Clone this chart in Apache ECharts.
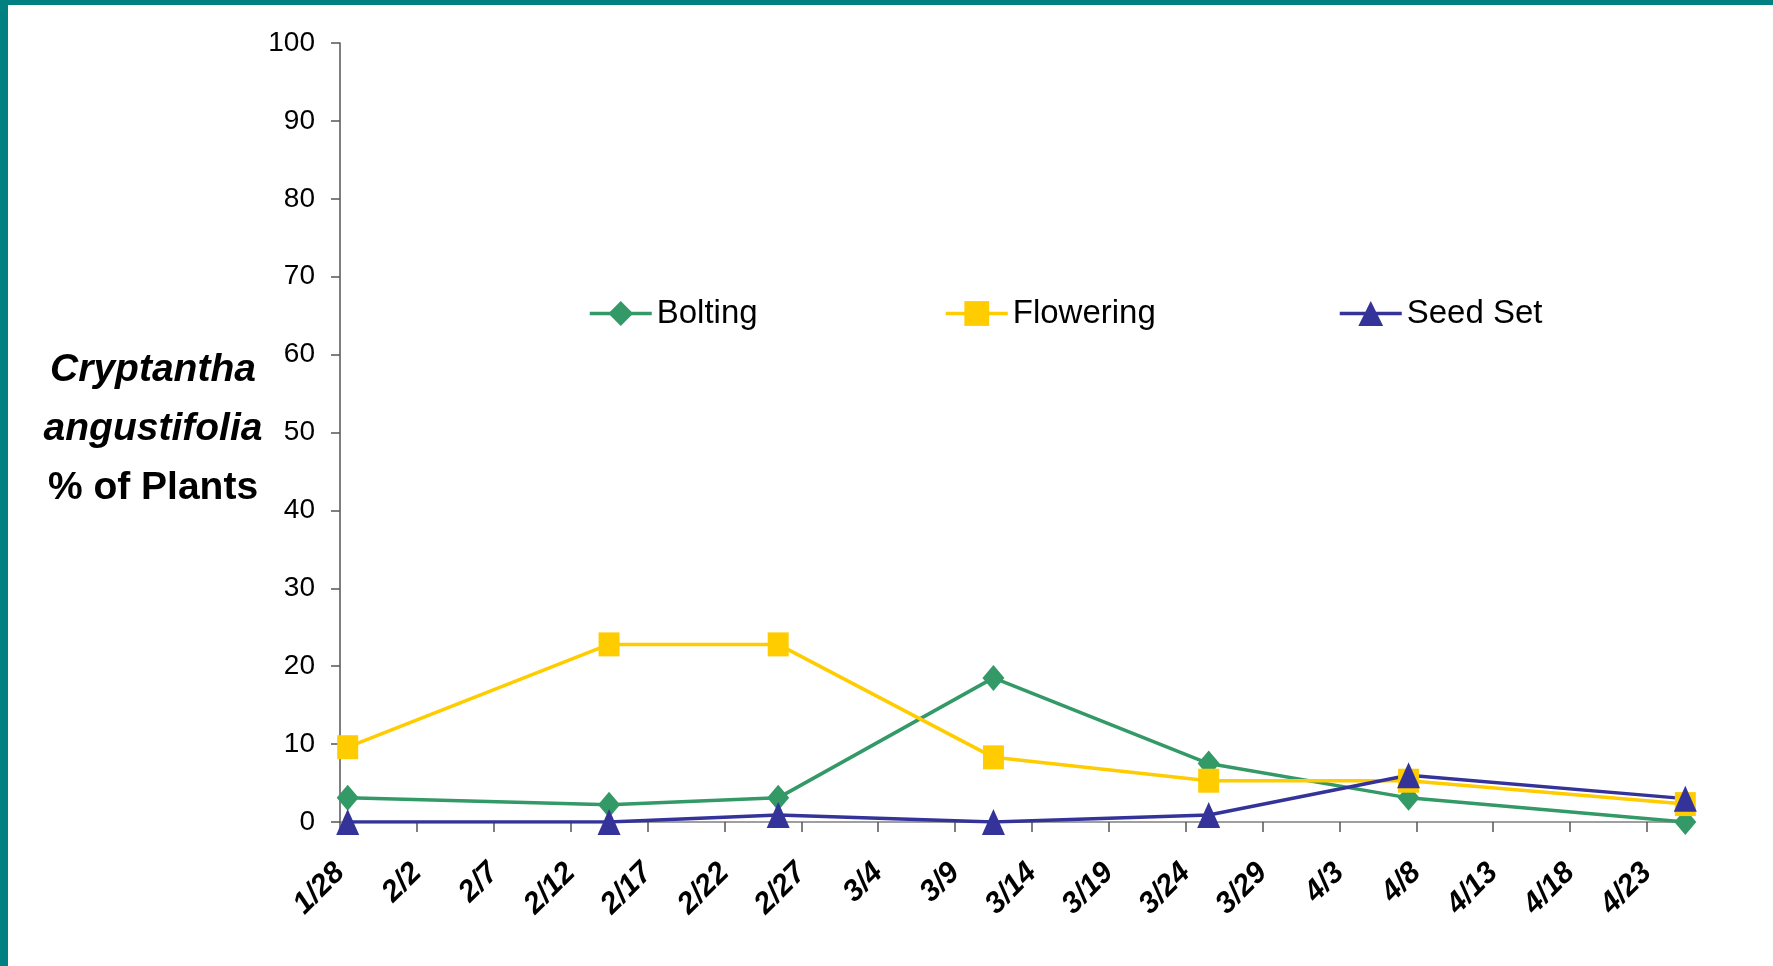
<!DOCTYPE html>
<html>
<head>
<meta charset="utf-8">
<script src="https://cdn.jsdelivr.net/npm/echarts@6/dist/echarts.min.js"></script>
<style>
  html, body { margin: 0; padding: 0; background: #ffffff; }
  #chart { width: 1773px; height: 966px; }
</style>
</head>
<body>
<div id="chart"></div>
<script>
// Survey dates (same season, non-leap year) and % of plants in each stage
const surveyDates = ['1/28', '2/14', '2/25', '3/11', '3/25', '4/7', '4/25'];
const bolting     = [3.1, 2.2, 3.1, 18.5, 7.5, 3.1, 0];
const flowering   = [9.6, 22.8, 22.8, 8.3, 5.3, 5.3, 2.3];
const seedSet     = [0, 0, 0.9, 0, 0.9, 6.0, 3.0];

// Date-axis tick labels, every 5 days
const dateTicks = ['1/28', '2/2', '2/7', '2/12', '2/17', '2/22', '2/27', '3/4', '3/9',
                   '3/14', '3/19', '3/24', '3/29', '4/3', '4/8', '4/13', '4/18', '4/23'];

const SEASON_YEAR = 2007;
const START = Date.UTC(SEASON_YEAR, 0, 28);
function dayOffset(md) {
  const [m, d] = md.split('/').map(Number);
  return Math.round((Date.UTC(SEASON_YEAR, m - 1, d) - START) / 86400000);
}

// each date occupies a one-day slot; points sit in the middle of their slot
const xs = surveyDates.map(d => dayOffset(d) + 0.5);
const tickDays = dateTicks.map(dayOffset);
const xMax = dayOffset(surveyDates[surveyDates.length - 1]) + 1;

const FONT = "'Liberation Sans', Arial, Helvetica, sans-serif";
const TEAL = '#008080';

function pairs(vals) { return vals.map((v, i) => [xs[i], v]); }

const legendCommon = {
  top: 297,
  padding: 0,
  itemWidth: 62,
  itemHeight: 31,
  itemGap: 0,
  lineStyle: { width: 3.5 },
  textStyle: { fontFamily: FONT, fontSize: 33, color: '#000000' }
};

const chart = echarts.init(document.getElementById('chart'), null, { renderer: 'canvas' });
chart.setOption({
  animation: false,
  backgroundColor: '#ffffff',
  grid: { left: 340, right: 80, top: 43, bottom: 144 },
  legend: [
    Object.assign({ data: ['Bolting'], left: 588 }, legendCommon),
    Object.assign({ data: ['Flowering'], left: 944 }, legendCommon),
    Object.assign({ data: ['Seed Set'], left: 1338 }, legendCommon)
  ],
  graphic: [
    { type: 'rect', left: 0, top: 0, shape: { width: 8, height: 966 }, style: { fill: TEAL }, silent: true },
    { type: 'rect', left: 0, top: 0, shape: { width: 1773, height: 5 }, style: { fill: TEAL }, silent: true },
    {
      type: 'text',
      x: 153, y: 429,
      silent: true,
      style: {
        text: '{i|Cryptantha}\n{i|angustifolia}\n{b|% of Plants}',
        align: 'center',
        verticalAlign: 'middle',
        fill: '#000000',
        rich: {
          i: { fontFamily: FONT, fontSize: 39, fontWeight: 'bold', fontStyle: 'italic', lineHeight: 59, align: 'center' },
          b: { fontFamily: FONT, fontSize: 39, fontWeight: 'bold', lineHeight: 59, align: 'center' }
        }
      }
    }
  ],
  xAxis: {
    type: 'value',
    min: 0,
    max: xMax,
    splitLine: { show: false },
    axisLine: { show: true, lineStyle: { color: '#808080', width: 1.5 } },
    axisTick: { show: true, customValues: tickDays, length: 10, lineStyle: { color: '#555555', width: 1.5 } },
    axisLabel: {
      customValues: tickDays,
      rotate: 45,
      margin: 46,
      fontFamily: FONT,
      fontSize: 30,
      fontWeight: 'bold',
      fontStyle: 'italic',
      color: '#000000',
      formatter: v => dateTicks[tickDays.indexOf(v)]
    }
  },
  yAxis: {
    type: 'value',
    min: 0,
    max: 100,
    interval: 10,
    splitLine: { show: false },
    axisLine: { show: true, lineStyle: { color: '#555555', width: 1.5 } },
    axisTick: { show: true, length: 9, lineStyle: { color: '#555555', width: 1.5 } },
    axisLabel: { margin: 25, fontFamily: FONT, fontSize: 28, color: '#000000' }
  },
  series: [
    {
      name: 'Bolting', type: 'line', data: pairs(bolting),
      symbol: 'diamond', symbolSize: [22, 26],
      lineStyle: { color: '#339966', width: 3.5 },
      itemStyle: { color: '#339966' }
    },
    {
      name: 'Flowering', type: 'line', data: pairs(flowering),
      symbol: 'rect', symbolSize: [21, 24],
      lineStyle: { color: '#FFCC00', width: 3.5 },
      itemStyle: { color: '#FFCC00' }
    },
    {
      name: 'Seed Set', type: 'line', data: pairs(seedSet),
      symbol: 'triangle', symbolSize: [23, 26],
      lineStyle: { color: '#333399', width: 3.5 },
      itemStyle: { color: '#333399' }
    }
  ]
});
</script>
</body>
</html>
